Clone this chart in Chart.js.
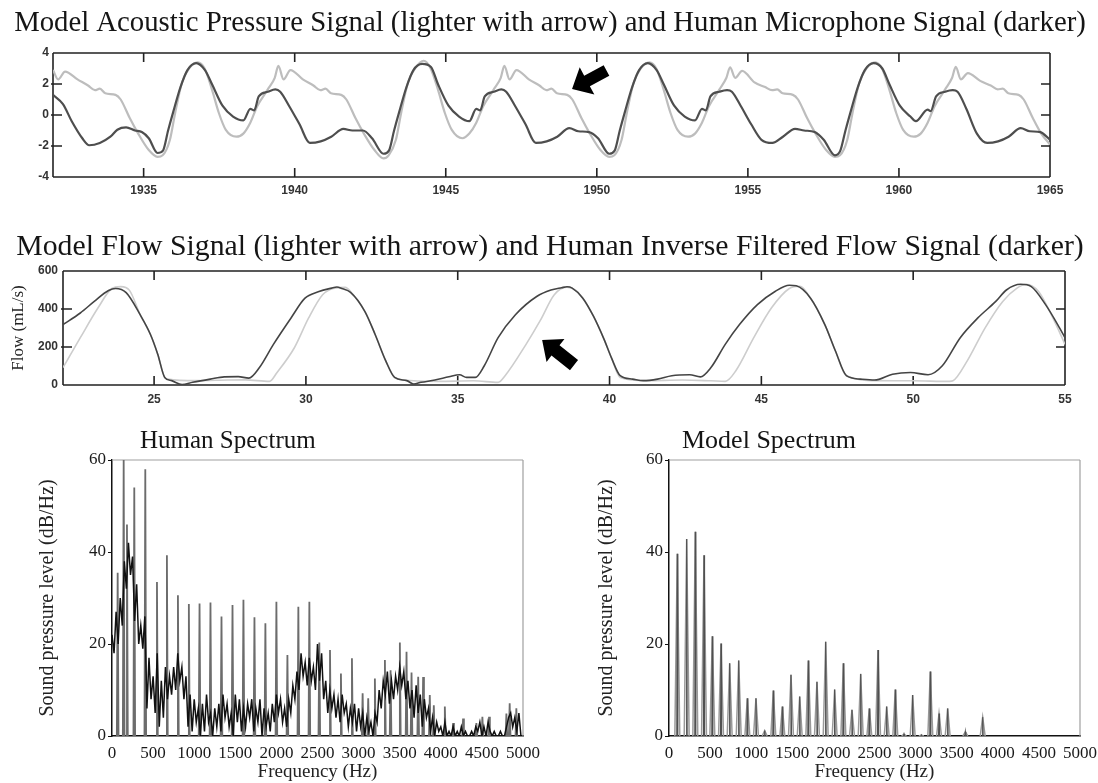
<!DOCTYPE html>
<html>
<head>
<meta charset="utf-8">
<title>Model vs human voice signals</title>
<script src="https://cdn.jsdelivr.net/npm/chart.js@4.4.1/dist/chart.umd.min.js"></script>
<style>
  html, body { margin: 0; padding: 0; background: #fff; }
  #page { position: relative; width: 1098px; height: 783px; overflow: hidden; }
  #page canvas { position: absolute; }
</style>
</head>
<body>
<div id="page">
  <canvas id="pressure-chart" width="1098" height="212" style="left:0;top:0"></canvas>
  <canvas id="flow-chart" width="1098" height="200" style="left:0;top:212px"></canvas>
  <canvas id="human-spectrum" width="549" height="371" style="left:0;top:412px"></canvas>
  <canvas id="model-spectrum" width="549" height="371" style="left:549px;top:412px"></canvas>
</div>
<script>
// ---- acoustic pressure (top panel) ----
var pressureTicksX = [1935, 1940, 1945, 1950, 1955, 1960, 1965];
var pressureTicksY = [-4, -2, 0, 2, 4];

// human microphone signal (darker)
var micTime = [
  1932.00, 1932.33, 1932.62, 1932.97, 1933.20, 1933.55, 1933.90, 1934.13, 1934.42, 1934.71, 1934.94, 1935.17,
  1935.46, 1935.64, 1935.81, 1935.98, 1936.22, 1936.45, 1936.74, 1937.03, 1937.26, 1937.61, 1937.96, 1938.30,
  1938.53, 1938.66, 1938.81, 1939.11, 1939.36, 1939.52, 1939.81, 1940.16, 1940.50, 1940.86, 1941.21, 1941.61,
  1941.91, 1942.26, 1942.56,
  1942.94, 1943.12, 1943.29, 1943.46, 1943.70, 1943.93, 1944.22, 1944.51, 1944.74, 1945.09, 1945.44, 1945.78,
  1946.01, 1946.14, 1946.29, 1946.59, 1946.84, 1947.00, 1947.29, 1947.64, 1947.98, 1948.34, 1948.69, 1949.09,
  1949.39, 1949.74, 1950.04,
  1950.41, 1950.59, 1950.76, 1950.93, 1951.17, 1951.40, 1951.69, 1951.98, 1952.21, 1952.56, 1952.91, 1953.25,
  1953.48, 1953.61, 1953.76, 1954.06, 1954.31, 1954.47, 1954.76, 1955.11, 1955.45, 1955.81, 1956.16, 1956.56,
  1956.86, 1957.21, 1957.51,
  1957.88, 1958.06, 1958.23, 1958.40, 1958.64, 1958.87, 1959.16, 1959.45, 1959.68, 1960.03, 1960.38, 1960.56,
  1960.95, 1961.05, 1961.23, 1961.53, 1961.78, 1961.94, 1962.23, 1962.58, 1962.92, 1963.28, 1963.63, 1964.03,
  1964.33, 1964.68, 1965.00
];
var micSignal = [
  1.3, 0.7, -0.4, -1.5, -1.95, -1.8, -1.4, -0.95, -0.8, -1.0, -1.1, -1.5,
  -2.45, -2.3, -1.0, 0.2, 1.8, 2.9, 3.35, 2.9, 2.0, 0.6, -0.1, -0.35,
  0.4, 0.3, 1.2, 1.5, 1.65, 1.5, 0.6, -0.6, -1.8, -1.7, -1.4, -0.9,
  -1.0, -1.0, -1.5,
  -2.5, -2.3, -1.0, 0.2, 1.8, 2.9, 3.3, 3.1, 2.0, 0.6, -0.1, -0.4,
  0.4, 0.3, 1.2, 1.5, 1.65, 1.5, 0.6, -0.6, -1.8, -1.7, -1.4, -0.85,
  -1.05, -1.1, -1.5,
  -2.5, -2.3, -1.0, 0.2, 1.8, 2.9, 3.35, 2.9, 2.0, 0.6, -0.1, -0.35,
  0.4, 0.3, 1.2, 1.5, 1.6, 1.5, 0.6, -0.6, -1.6, -1.8, -1.4, -0.9,
  -1.0, -1.1, -1.6,
  -2.6, -2.3, -1.0, 0.2, 1.8, 2.9, 3.35, 3.0, 2.0, 0.6, -0.1, -0.4,
  0.35, 0.25, 1.2, 1.5, 1.6, 1.5, 0.4, -1.2, -1.8, -1.7, -1.4, -0.85,
  -1.05, -1.1, -1.6
];

// model acoustic pressure (lighter)
var modelPressureTime = [
  1932.00, 1932.17, 1932.40, 1932.81, 1933.16, 1933.39, 1933.55, 1933.73, 1934.07, 1934.24, 1934.54, 1934.82, 1935.17,
  1935.46, 1935.63, 1935.87, 1936.04, 1936.27, 1936.50, 1936.79, 1937.02, 1937.26, 1937.49, 1937.72, 1938.07,
  1938.30, 1938.53, 1938.76, 1939.11, 1939.34, 1939.46, 1939.63, 1939.86, 1940.27, 1940.62, 1940.85, 1941.02,
  1941.20, 1941.54, 1941.71, 1942.01, 1942.29, 1942.64,
  1942.94, 1943.11, 1943.35, 1943.52, 1943.75, 1943.98, 1944.27, 1944.50, 1944.74, 1944.97, 1945.20, 1945.55,
  1945.78, 1946.01, 1946.24, 1946.59, 1946.82, 1946.94, 1947.11, 1947.34, 1947.75, 1948.10, 1948.33, 1948.50,
  1948.68, 1949.02, 1949.19, 1949.49, 1949.77, 1950.12,
  1950.41, 1950.58, 1950.82, 1950.99, 1951.22, 1951.45, 1951.74, 1951.97, 1952.21, 1952.44, 1952.67, 1953.02,
  1953.25, 1953.48, 1953.71, 1954.06, 1954.29, 1954.41, 1954.58, 1954.81, 1955.22, 1955.57, 1955.80, 1955.97,
  1956.15, 1956.49, 1956.66, 1956.96, 1957.24, 1957.59,
  1957.88, 1958.05, 1958.29, 1958.46, 1958.69, 1958.92, 1959.21, 1959.44, 1959.68, 1959.91, 1960.14, 1960.49,
  1960.72, 1960.95, 1961.18, 1961.53, 1961.76, 1961.88, 1962.05, 1962.28, 1962.69, 1963.04, 1963.27, 1963.44,
  1963.62, 1963.96, 1964.13, 1964.43, 1964.71, 1965.00
];
var modelPressure = [
  2.9, 2.3, 2.8, 2.3, 1.9, 1.6, 1.7, 1.4, 1.3, 1.0, -0.2, -1.2, -2.26,
  -2.7, -2.6, -1.6, 0.1, 2.1, 3.0, 3.4, 3.0, 1.65, 0.13, -0.96, -1.4,
  -1.2, -0.5, 0.57, 1.65, 2.4, 3.17, 2.3, 2.9, 2.3, 1.9, 1.6, 1.7,
  1.4, 1.3, 1.0, -0.2, -1.2, -2.26,
  -2.8, -2.6, -1.6, 0.1, 2.1, 3.0, 3.5, 3.0, 1.65, 0.13, -0.96, -1.5,
  -1.2, -0.5, 0.57, 1.65, 2.4, 3.17, 2.3, 2.9, 2.3, 1.9, 1.6, 1.7,
  1.4, 1.3, 1.0, -0.2, -1.2, -2.26,
  -2.7, -2.6, -1.6, 0.1, 2.1, 3.0, 3.4, 3.0, 1.65, 0.13, -0.96, -1.4,
  -1.2, -0.5, 0.57, 1.65, 2.4, 3.07, 2.4, 2.85, 2.1, 1.8, 1.6, 1.65,
  1.4, 1.3, 1.0, -0.2, -1.2, -2.26,
  -2.7, -2.6, -1.6, 0.1, 2.1, 3.0, 3.4, 3.0, 1.65, 0.13, -0.96, -1.4,
  -1.2, -0.5, 0.57, 1.65, 2.4, 3.1, 2.3, 2.7, 2.2, 1.9, 1.65, 1.7,
  1.4, 1.3, 1.0, -0.2, -1.2, -1.9
];

// ---- glottal flow (middle panel), mL/s ----
var flowTicksX = [25, 30, 35, 40, 45, 50, 55];
var flowTicksY = [0, 200, 400, 600];

// human inverse filtered flow (darker)
var humanFlowTime = [
  22.0, 22.57, 23.03, 23.5, 23.73, 24.08, 24.54, 24.88, 25.12, 25.35, 25.58, 25.92, 26.27, 26.85, 27.31, 27.77,
  28.12, 28.47, 28.93, 29.51, 29.97, 30.43, 30.84, 31.02, 31.18, 31.47, 31.94, 32.28, 32.63, 32.92, 33.32, 33.55, 33.79,
  34.25, 34.71, 35.06, 35.29, 35.58, 35.87, 36.33, 36.9, 37.6, 38.07, 38.42, 38.6, 38.77, 39.12, 39.47, 39.82, 40.06,
  40.35, 40.76, 41.11, 41.58, 42.05, 42.64, 42.99, 43.34, 43.81, 44.28, 44.87, 45.45, 45.92, 46.15, 46.62, 47.09,
  47.44, 47.8, 48.26, 48.73, 49.32, 49.91, 50.49, 50.96, 51.55, 52.13, 52.72, 53.07, 53.54, 53.89, 54.36, 54.82, 55.0
];
var humanFlow = [
  318, 379, 440, 497, 508, 486, 370, 266, 162, 40, 23, 2, 14, 31, 43, 44,
  36, 92, 214, 353, 457, 492, 510, 516, 508, 488, 388, 266, 127, 40, 23, 5, 14,
  26, 43, 54, 40, 40, 100, 249, 370, 466, 500, 512, 517, 510, 457, 362, 240, 144,
  49, 31, 23, 31, 49, 54, 43, 92, 214, 318, 423, 492, 525, 522, 457, 318,
  179, 49, 31, 26, 57, 66, 54, 101, 249, 353, 440, 500, 530, 518, 423, 301, 249
];

// model flow (lighter)
var modelFlowTime = [
  22.0, 22.57, 23.15, 23.61, 23.9, 24.19, 24.54, 24.88, 25.12, 25.35, 25.46, 26.39, 27.43, 28.0, 28.8, 29.05,
  29.62, 30.09, 30.55, 30.9, 31.3, 31.47, 31.94, 32.28, 32.63, 32.92, 33.2, 34.36, 35.52, 36.33, 36.56, 37.25,
  37.72, 38.18, 38.59, 38.89, 39.12, 39.47, 39.82, 40.06, 40.35, 41.23, 42.4, 43.34, 43.81, 44.16, 44.75, 45.33,
  45.92, 46.27, 46.62, 47.09, 47.44, 47.8, 48.85, 50.02, 51.2, 51.31, 51.78, 52.37, 52.95, 53.42, 53.72, 54.13,
  54.6, 55.0
];
var modelFlow = [
  92, 249, 405, 508, 518, 498, 370, 266, 162, 40, 31, 23, 26, 27, 19, 66,
  196, 353, 475, 508, 514, 492, 388, 266, 127, 40, 26, 19, 22, 14, 49, 214,
  340, 475, 515, 498, 457, 362, 240, 144, 40, 23, 26, 22, 19, 75, 249, 405,
  508, 520, 457, 318, 179, 49, 23, 22, 19, 22, 127, 301, 440, 510, 530, 492,
  353, 214
];

// ---- spectra (bottom panels), dB/Hz ----
var spectrumTicksX = [0, 500, 1000, 1500, 2000, 2500, 3000, 3500, 4000, 4500, 5000];
var spectrumTicksY = [0, 20, 40, 60];

// human spectrum: noisy floor sampled every 25 Hz
var humanFloorFreq = [
  0, 25, 50, 75, 100, 125, 150, 175, 200, 225, 250, 275, 300, 325, 350, 375, 400, 425, 450, 475,
  500, 525, 550, 575, 600, 625, 650, 675, 700, 725, 750, 775, 800, 825, 850, 875, 900, 925, 950, 975,
  1000, 1025, 1050, 1075, 1100, 1125, 1150, 1175, 1200, 1225, 1250, 1275, 1300, 1325, 1350, 1375, 1400, 1425, 1450, 1475,
  1500, 1525, 1550, 1575, 1600, 1625, 1650, 1675, 1700, 1725, 1750, 1775, 1800, 1825, 1850, 1875, 1900, 1925, 1950, 1975,
  2000, 2025, 2050, 2075, 2100, 2125, 2150, 2175, 2200, 2225, 2250, 2275, 2300, 2325, 2350, 2375, 2400, 2425, 2450, 2475,
  2500, 2525, 2550, 2575, 2600, 2625, 2650, 2675, 2700, 2725, 2750, 2775, 2800, 2825, 2850, 2875, 2900, 2925, 2950, 2975,
  3000, 3025, 3050, 3075, 3100, 3125, 3150, 3175, 3200, 3225, 3250, 3275, 3300, 3325, 3350, 3375, 3400, 3425, 3450, 3475,
  3500, 3525, 3550, 3575, 3600, 3625, 3650, 3675, 3700, 3725, 3750, 3775, 3800, 3825, 3850, 3875, 3900, 3925, 3950, 3975,
  4000, 4025, 4050, 4075, 4100, 4125, 4150, 4175, 4200, 4225, 4250, 4275, 4300, 4325, 4350, 4375, 4400, 4425, 4450, 4475,
  4500, 4525, 4550, 4575, 4600, 4625, 4650, 4675, 4700, 4725, 4750, 4775, 4800, 4825, 4850, 4875, 4900, 4925, 4950, 4975
];
var humanFloor = [
  22, 18, 27, 20, 30, 24, 38, 32, 42, 35, 39, 25, 33, 20, 24, 19, 26, 6, 17, 8,
  13, 5, 18, 2, 12, 4, 15, 8, 13, 9, 15, 10, 18, 12, 15, 8, 13, 2, 9, 1,
  8, 3, 6, 0, 7, 1, 9, 3, 5, 0, 6, 2, 7, 1, 9, 4, 7, 2, 5, 0,
  9, 3, 8, 1, 6, 2, 7, 4, 8, 1, 6, 3, 8, 0, 6, 2, 5, 1, 7, 3,
  9, 5, 8, 3, 6, 2, 8, 5, 11, 8, 14, 10, 18, 13, 16, 11, 17, 12, 15, 10,
  20, 12, 18, 8, 12, 5, 10, 6, 9, 4, 8, 3, 9, 5, 7, 2, 6, 3, 7, 1,
  6, 2, 5, 0, 4, 1, 3, 0, 5, 3, 10, 6, 12, 9, 14, 7, 12, 8, 13, 10,
  15, 11, 14, 8, 12, 6, 10, 4, 11, 5, 9, 2, 8, 4, 6, 1, 4, 0, 3, 1,
  2, 0, 3, 0, 1, 0, 2, 0, 1, 0, 2, 0, 1, 0, 0, 1, 0, 2, 1, 3,
  0, 2, 0, 3, 1, 0, 1, 0, 0, 1, 0, 0, 2, 4, 5, 2, 4, 1, 5, 0
];
// human spectrum: harmonic peaks
var humanPeakFreq = [
  69, 142, 182, 271, 405, 547, 668, 802, 935, 1065, 1198, 1332, 1466, 1599, 1733, 1866,
  2000, 2134, 2267, 2401, 2522, 2652, 2785, 2919, 3049, 3117, 3198, 3320, 3389, 3502, 3583, 3644,
  3725, 3785, 3866, 3915, 4049, 4150, 4271, 4433, 4506, 4587, 4798, 4838, 4919
];
var humanPeakLevel = [
  35.5, 60, 46, 54, 58, 33.5, 39.3, 30.6, 28.7, 28.8, 29, 26, 28.5, 29.6, 25.8, 24.5,
  29.2, 17.6, 28.1, 29.2, 20.3, 18.7, 13.6, 16.9, 9.3, 8.2, 12.5, 16.5, 14.3, 20.3, 18.3, 13.8,
  12.9, 12.8, 8.9, 6.7, 6.4, 2.8, 3.8, 2.8, 4.2, 4.2, 4.9, 7.1, 6.0
];

// model spectrum: harmonic peaks
var modelPeakFreq = [
  101, 215, 320, 426, 527, 633, 738, 848, 953, 1058, 1164, 1269, 1379, 1484, 1590, 1695, 1800, 1906,
  2015, 2121, 2226, 2332, 2437, 2543, 2648, 2753, 2859, 2964, 3070, 3179, 3285, 3390, 3605, 3816
];
var modelPeakLevel = [
  39.6, 42.8, 44.4, 39.3, 21.7, 20.1, 15.8, 16.4, 8.2, 8.2, 1.2, 9.9, 6.4, 13.3, 8.6, 16.4, 11.8, 20.5,
  10.1, 15.8, 5.7, 13.5, 6.0, 18.7, 6.4, 10.1, 0.4, 8.9, 0.2, 14.0, 4.9, 6.0, 0.9, 4.1
];

var serif = "'Liberation Serif', 'Times New Roman', serif";
var sans = "'Liberation Sans', Arial, sans-serif";

function toPoints(xs, ys) {
    return xs.map(function (x, i) { return { x: x, y: ys[i] }; });
}

// each harmonic as a narrow needle rising from the baseline
function needles(freqs, levels, halfWidth) {
    var pts = [];
    freqs.forEach(function (f, i) {
        pts.push({ x: f - halfWidth, y: 0 }, { x: f, y: levels[i] }, { x: f + halfWidth, y: 0 });
        pts.push({ x: f + halfWidth, y: null });
    });
    return pts;
}

function fixedTicks(values) {
    return function (scale) {
        scale.ticks = values.map(function (v) { return { value: v }; });
    };
}

function fixedSize(prop, size) {
    return function (scale) {
        scale[prop] = size;
        scale.paddingLeft = 0;
        scale.paddingRight = 0;
        scale.paddingTop = 0;
        scale.paddingBottom = 0;
    };
}

// box round the plot area, plus the small inward tick marks
var framePlugin = {
    id: 'frame',
    beforeDatasetsDraw: function (chart, args, opts) {
        var a = chart.chartArea, ctx = chart.ctx;
        var sides = opts.sides || ['top', 'right', 'bottom', 'left'];
        ctx.save();
        ctx.strokeStyle = opts.color || '#000';
        ctx.lineWidth = opts.width || 1;
        ctx.beginPath();
        if (sides.indexOf('top') >= 0) { ctx.moveTo(a.left, a.top); ctx.lineTo(a.right, a.top); }
        if (sides.indexOf('right') >= 0) { ctx.moveTo(a.right, a.top); ctx.lineTo(a.right, a.bottom); }
        if (sides.indexOf('bottom') >= 0) { ctx.moveTo(a.left, a.bottom); ctx.lineTo(a.right, a.bottom); }
        if (sides.indexOf('left') >= 0) { ctx.moveTo(a.left, a.top); ctx.lineTo(a.left, a.bottom); }
        ctx.stroke();
        if (opts.innerTicks) {
            var len = opts.innerTicks;
            var xs = chart.scales.x, ys = chart.scales.y;
            ctx.beginPath();
            xs.ticks.forEach(function (t) {
                var px = xs.getPixelForValue(t.value);
                if (px <= a.left + 1 || px >= a.right - 1) return;
                ctx.moveTo(px, a.top); ctx.lineTo(px, a.top + len);
                ctx.moveTo(px, a.bottom); ctx.lineTo(px, a.bottom - len);
            });
            ys.ticks.forEach(function (t) {
                var py = ys.getPixelForValue(t.value);
                if (py <= a.top + 1 || py >= a.bottom - 1) return;
                ctx.moveTo(a.left - 2, py); ctx.lineTo(a.left + len, py);
                ctx.moveTo(a.right, py); ctx.lineTo(a.right - len, py);
            });
            ctx.stroke();
        }
        ctx.restore();
    }
};

// block arrows placed in data coordinates
var arrowPlugin = {
    id: 'arrows',
    afterDatasetsDraw: function (chart, args, opts) {
        if (!opts.items) return;
        var ctx = chart.ctx, xs = chart.scales.x, ys = chart.scales.y;
        opts.items.forEach(function (a) {
            var x0 = xs.getPixelForValue(a.from[0]), y0 = ys.getPixelForValue(a.from[1]);
            var x1 = xs.getPixelForValue(a.to[0]), y1 = ys.getPixelForValue(a.to[1]);
            var dx = x1 - x0, dy = y1 - y0, len = Math.sqrt(dx * dx + dy * dy);
            var ux = dx / len, uy = dy / len, nx = -uy, ny = ux;
            var sw = opts.shaft / 2, hw = opts.head / 2, hb = len - opts.headLength;
            var bx = x0 + ux * hb, by = y0 + uy * hb;
            ctx.save();
            ctx.fillStyle = '#000';
            ctx.beginPath();
            ctx.moveTo(x0 + nx * sw, y0 + ny * sw);
            ctx.lineTo(bx + nx * sw, by + ny * sw);
            ctx.lineTo(bx + nx * hw, by + ny * hw);
            ctx.lineTo(x1, y1);
            ctx.lineTo(bx - nx * hw, by - ny * hw);
            ctx.lineTo(bx - nx * sw, by - ny * sw);
            ctx.lineTo(x0 - nx * sw, y0 - ny * sw);
            ctx.closePath();
            ctx.fill();
            ctx.restore();
        });
    }
};

// panel headings; when a width is given the font is sized to fill it
var captionPlugin = {
    id: 'caption',
    afterDraw: function (chart, args, opts) {
        if (!opts.text) return;
        var ctx = chart.ctx;
        var size = opts.size;
        ctx.save();
        ctx.font = size + 'px ' + serif;
        if (opts.width) {
            size = size * opts.width / ctx.measureText(opts.text).width;
            ctx.font = size.toFixed(2) + 'px ' + serif;
        }
        ctx.fillStyle = '#151515';
        ctx.textAlign = opts.align || 'center';
        ctx.textBaseline = 'middle';
        ctx.fillText(opts.text, opts.x, opts.y);
        ctx.restore();
    }
};

Chart.defaults.animation = false;
Chart.defaults.responsive = false;
Chart.defaults.devicePixelRatio = 1;
Chart.defaults.plugins.legend.display = false;
Chart.defaults.plugins.tooltip.enabled = false;

var signalTickFont = { family: sans, size: 12, weight: 'bold' };

// Acoustic pressure: model vs human microphone
new Chart(document.getElementById('pressure-chart'), {
    type: 'line',
    data: {
        datasets: [
            {
                label: 'Human microphone signal',
                data: toPoints(micTime, micSignal),
                borderColor: '#4e4e4e',
                borderWidth: 2.2,
                pointRadius: 0,
                cubicInterpolationMode: 'monotone'
            },
            {
                label: 'Model acoustic pressure',
                data: toPoints(modelPressureTime, modelPressure),
                borderColor: '#bdbdbd',
                borderWidth: 2.2,
                pointRadius: 0,
                cubicInterpolationMode: 'monotone'
            }
        ]
    },
    options: {
        layout: { padding: { left: 0, top: 53, right: 48, bottom: 15 } },
        scales: {
            x: {
                type: 'linear', min: 1932, max: 1965,
                afterBuildTicks: fixedTicks(pressureTicksX),
                afterFit: fixedSize('height', 20),
                grid: { display: false, drawTicks: false },
                border: { display: false },
                ticks: { font: signalTickFont, color: '#333', padding: 6, maxRotation: 0,
                         callback: function (v) { return String(v); } }
            },
            y: {
                min: -4, max: 4,
                afterBuildTicks: fixedTicks(pressureTicksY),
                afterFit: fixedSize('width', 53),
                grid: { display: false, drawTicks: false },
                border: { display: false },
                ticks: { font: signalTickFont, color: '#333', padding: 4 }
            }
        },
        plugins: {
            frame: { color: '#222', width: 1.6, innerTicks: 9 },
            arrows: { shaft: 12, head: 31, headLength: 17, items: [{ from: [1950.32, 2.87], to: [1949.18, 1.68] }] },
            caption: { text: 'Model Acoustic Pressure Signal (lighter with arrow) and Human Microphone Signal (darker)',
                       x: 550, y: 23, size: 24, width: 1072 }
        }
    },
    plugins: [framePlugin, arrowPlugin, captionPlugin]
});

// Glottal flow: model vs human inverse filtered
new Chart(document.getElementById('flow-chart'), {
    type: 'line',
    data: {
        datasets: [
            {
                label: 'Human inverse filtered flow',
                data: toPoints(humanFlowTime, humanFlow),
                borderColor: '#444',
                borderWidth: 1.6,
                pointRadius: 0,
                cubicInterpolationMode: 'monotone'
            },
            {
                label: 'Model flow',
                data: toPoints(modelFlowTime, modelFlow),
                borderColor: '#cdcdcd',
                borderWidth: 1.6,
                pointRadius: 0,
                cubicInterpolationMode: 'monotone'
            }
        ]
    },
    options: {
        layout: { padding: { left: 0, top: 59, right: 33, bottom: 5 } },
        scales: {
            x: {
                type: 'linear', min: 22, max: 55,
                afterBuildTicks: fixedTicks(flowTicksX),
                afterFit: fixedSize('height', 22),
                grid: { display: false, drawTicks: false },
                border: { display: false },
                ticks: { font: signalTickFont, color: '#333', padding: 7, maxRotation: 0 }
            },
            y: {
                min: 0, max: 600,
                afterBuildTicks: fixedTicks(flowTicksY),
                afterFit: fixedSize('width', 63),
                grid: { display: false, drawTicks: false },
                border: { display: false },
                ticks: { font: signalTickFont, color: '#333', padding: 5 },
                title: { display: true, text: 'Flow (mL/s)', font: { family: serif, size: 17 }, color: '#222',
                         padding: { top: 8, bottom: 0 } }
            }
        },
        plugins: {
            frame: { color: '#222', width: 1.6, innerTicks: 9 },
            arrows: { shaft: 13, head: 29, headLength: 17, items: [{ from: [38.83, 105], to: [37.78, 237] }] },
            caption: { text: 'Model Flow Signal (lighter with arrow) and Human Inverse Filtered Flow Signal (darker)',
                       x: 550, y: 35, size: 24, width: 1068 }
        }
    },
    plugins: [framePlugin, arrowPlugin, captionPlugin]
});

function spectrumOptions(yWidth, titlePad, caption) {
    return {
        layout: { padding: { left: 0, top: 48, right: 549 - yWidth - 411, bottom: 0 } },
        scales: {
            x: {
                type: 'linear', min: 0, max: 5000,
                afterBuildTicks: fixedTicks(spectrumTicksX),
                afterFit: fixedSize('height', 47),
                grid: { display: false, drawTicks: false },
                border: { display: true, color: '#111', width: 1.5 },
                ticks: { font: { family: serif, size: 17 }, color: '#1a1a1a', padding: 7, maxRotation: 0, autoSkip: false,
                         callback: function (v) { return String(v); } },
                title: { display: true, text: 'Frequency (Hz)', font: { family: serif, size: 19 }, color: '#222',
                         padding: { top: 0, bottom: 0 } }
            },
            y: {
                min: 0, max: 60,
                afterBuildTicks: fixedTicks(spectrumTicksY),
                afterFit: fixedSize('width', yWidth),
                grid: { display: true, drawOnChartArea: false, drawTicks: true, tickLength: 4, color: '#111' },
                border: { display: true, color: '#111', width: 1.5 },
                ticks: { font: { family: serif, size: 17 }, color: '#1a1a1a', padding: 2 },
                title: { display: true, text: 'Sound pressure level (dB/Hz)', font: { family: serif, size: 20 },
                         color: '#222', padding: { top: titlePad, bottom: 0 } }
            }
        },
        plugins: {
            frame: { color: '#a0a0a0', width: 1.2, sides: ['top', 'right'] },
            caption: caption
        }
    };
}

// Human spectrum
new Chart(document.getElementById('human-spectrum'), {
    type: 'line',
    data: {
        datasets: [
            {
                label: 'Human spectrum',
                data: toPoints(humanFloorFreq, humanFloor),
                borderColor: '#111',
                borderWidth: 1.5,
                pointRadius: 0
            },
            {
                label: 'Human harmonics',
                data: needles(humanPeakFreq, humanPeakLevel, 10),
                borderColor: '#6c6c6c',
                borderWidth: 1.8,
                pointRadius: 0,
                spanGaps: false
            }
        ]
    },
    options: spectrumOptions(112, 36, { text: 'Human Spectrum', x: 140, y: 29, size: 25, align: 'left' }),
    plugins: [framePlugin, captionPlugin]
});

// Model spectrum: a dark core inside a wider grey lobe for each harmonic
new Chart(document.getElementById('model-spectrum'), {
    type: 'line',
    data: {
        datasets: [
            {
                label: 'Model harmonics (core)',
                data: needles(modelPeakFreq, modelPeakLevel, 6),
                borderColor: '#505050',
                borderWidth: 1.2,
                pointRadius: 0,
                spanGaps: false
            },
            {
                label: 'Model harmonics',
                data: needles(modelPeakFreq, modelPeakLevel, 30),
                borderColor: '#999',
                borderWidth: 1.5,
                pointRadius: 0,
                spanGaps: false
            }
        ]
    },
    options: spectrumOptions(120, 46, { text: 'Model Spectrum', x: 133, y: 29, size: 26, align: 'left' }),
    plugins: [framePlugin, captionPlugin]
});
</script>
</body>
</html>
